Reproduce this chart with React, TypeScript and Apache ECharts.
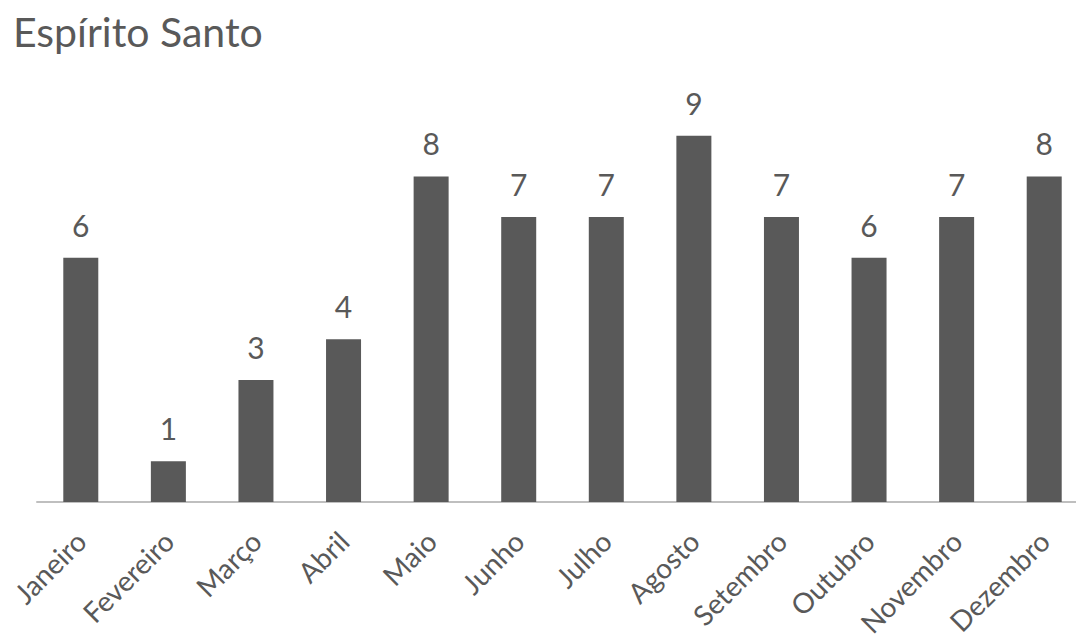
import React, { useEffect, useRef } from "react";
import * as echarts from "echarts";

const titleText = "Espírito Santo";
const categories = [
  "Janeiro", "Fevereiro", "Março", "Abril", "Maio", "Junho",
  "Julho", "Agosto", "Setembro", "Outubro", "Novembro", "Dezembro",
];
const values = [6, 1, 3, 4, 8, 7, 7, 9, 7, 6, 7, 8];

const FONT = "Lato, 'Open Sans', sans-serif";
const GRAY = "#595959";

export default function App() {
  const ref = useRef<HTMLDivElement>(null);
  useEffect(() => {
    if (!ref.current) return;
    const chart = echarts.init(ref.current, undefined, { renderer: "svg" });
    chart.setOption({
      animation: false,
      backgroundColor: "#ffffff",
      title: {
        text: titleText,
        left: 8,
        top: 6,
        textStyle: { fontFamily: FONT, fontSize: 41, fontWeight: "normal", color: GRAY },
      },
      grid: { left: 37, right: -12, top: 95, bottom: 141, outerBoundsMode: "none", containLabel: false },
      xAxis: {
        type: "category",
        data: categories,
        axisLine: { show: true, lineStyle: { color: "#bfbfbf", width: 2 } },
        axisTick: { show: false },
        axisLabel: {
          rotate: 45,
          interval: 0,
          margin: 34,
          fontFamily: FONT,
          fontSize: 28,
          color: GRAY,
        },
      },
      yAxis: {
        type: "value",
        min: 0,
        max: 10,
        show: false,
        splitLine: { show: false },
      },
      series: [
        {
          type: "bar",
          data: values,
          barWidth: 35,
          itemStyle: { color: GRAY },
          label: {
            show: true,
            position: "top",
            distance: 18,
            fontFamily: FONT,
            fontSize: 30,
            color: GRAY,
          },
        },
      ],
    });
    return () => chart.dispose();
  }, []);
  return (
    <div
      ref={ref}
      style={{ position: "absolute", left: 0, top: 0, width: 1076, height: 643 }}
    />
  );
}
